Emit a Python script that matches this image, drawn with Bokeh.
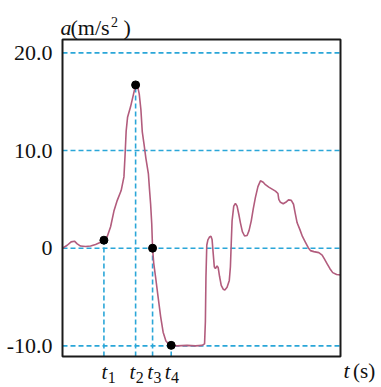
from bokeh.plotting import figure
from bokeh.models import Label
from bokeh.embed import file_html
from bokeh.resources import INLINE

# ---- data ----
t = [0.00, 0.17, 0.31, 0.43, 0.53, 0.65, 0.83, 1.01, 1.19, 1.37, 1.49, 1.61, 1.73, 1.85, 1.97,
     2.11, 2.21, 2.25, 2.29, 2.34, 2.45, 2.54, 2.63, 2.70, 2.76, 2.82, 2.87, 2.93, 3.00, 3.09,
     3.13, 3.17, 3.21, 3.24, 3.28, 3.35, 3.43, 3.53, 3.62, 3.72, 3.83, 3.91, 4.12, 4.48, 4.78,
     5.02, 5.11, 5.14, 5.16, 5.19, 5.23, 5.29, 5.34, 5.38, 5.42, 5.46, 5.50, 5.56, 5.60, 5.65,
     5.71, 5.78, 5.84, 5.92, 6.00, 6.04, 6.07, 6.10, 6.16, 6.22, 6.28, 6.34, 6.40, 6.47, 6.55,
     6.64, 6.71, 6.79, 6.86, 6.94, 7.03, 7.12, 7.22, 7.30, 7.42, 7.54, 7.66, 7.75, 7.78, 7.84,
     7.94, 8.03, 8.13, 8.23, 8.31, 8.37, 8.44, 8.54, 8.63, 8.74, 8.84, 8.92, 9.04, 9.22, 9.34,
     9.42, 9.52, 9.62, 9.72, 9.86, 10.00]
a = [0.00, 0.30, 0.65, 0.72, 0.45, 0.22, 0.17, 0.22, 0.38, 0.60, 0.82, 1.20, 2.20, 3.80, 4.90,
     5.90, 7.30, 9.50, 12.00, 13.40, 14.50, 15.60, 16.72, 16.60, 15.80, 14.20, 11.90, 10.70, 9.20, 7.60,
     6.00, 4.50, 2.50, 0.00, -1.50, -3.00, -4.80, -7.00, -8.60, -9.50, -9.85, -9.95, -10.00, -9.95, -10.00,
     -9.95, -9.80, -7.50, -3.00, 0.30, 0.85, 1.15, 1.23, 0.90, -0.50, -1.90, -2.10, -1.80, -2.00, -2.90,
     -3.80, -4.20, -4.27, -4.00, -3.30, -1.90, 0.50, 2.80, 4.30, 4.60, 4.30, 3.50, 2.60, 1.70, 1.25,
     1.30, 1.80, 2.80, 4.00, 5.20, 6.30, 6.90, 6.75, 6.50, 6.25, 6.05, 5.85, 5.60, 5.00, 4.70,
     4.55, 4.70, 4.95, 4.90, 4.50, 3.60, 2.60, 1.90, 1.20, 0.60, 0.05, -0.25, -0.35, -0.45, -0.70,
     -1.10, -1.60, -2.10, -2.50, -2.70, -2.75]

mark_t = [1.49, 2.63, 3.24, 3.91]
mark_a = [0.82, 16.72, 0.00, -9.95]
mark_names = ["1", "2", "3", "4"]

grid_y = [20.0, 10.0, 0.0, -10.0]
grid_labels = ["20.0", "10.0", "0", "-10.0"]

# plotting box (data limits of the drawn frame)
X0, X1 = 0.0, 10.0
Y0, Y1 = -11.09, 21.37

# ---- layout: the drawn box occupies canvas px FL..FR x FT..FB ----
W, H = 381, 387
FL, FR, FT, FB = 62, 340, 39, 356
def dx(px):
    return X0 + (px - FL) * (X1 - X0) / (FR - FL)
def dy(py):
    return Y1 - (py - FT) * (Y1 - Y0) / (FB - FT)

p = figure(width=W, height=H, x_range=(dx(0), dx(W)), y_range=(dy(H), dy(0)),
           output_backend="svg", toolbar_location=None,
           x_axis_location=None, y_axis_location=None,
           min_border=0)
p.xgrid.visible = False
p.ygrid.visible = False
p.background_fill_color = "white"
p.border_fill_color = "white"
p.outline_line_color = None

grid_col = "#2aa6d8"
p.segment(x0=[X0] * len(grid_y), y0=grid_y, x1=[X1] * len(grid_y), y1=grid_y,
          line_color=grid_col, line_width=1.6, line_dash="5 3")
p.segment(x0=mark_t, y0=[Y0] * len(mark_t), x1=mark_t, y1=mark_a,
          line_color=grid_col, line_width=1.6, line_dash="5 3")

p.line(t, a, line_color="#b25c7d", line_width=1.6)
p.scatter(mark_t, mark_a, size=8, color="black")

# frame box
p.quad(left=[X0], right=[X1], bottom=[Y0], top=[Y1], fill_color=None,
       line_color="#1a1a1a", line_width=2)

serif = "Liberation Serif"

# y tick labels
p.text(x=[dx(52)] * len(grid_y), y=grid_y, text=grid_labels,
       text_font={"value": serif}, text_font_size="22px", text_color="#111111",
       text_align="right", text_baseline="middle")

def lab(txt, px, py, size="22px", style="normal"):
    p.add_layout(Label(x=dx(px), y=dy(py), text=txt, text_font=serif,
                       text_font_size=size, text_font_style=style,
                       text_color="#111111", text_align="left",
                       text_baseline="alphabetic"))

# y-axis title a(m/s^2)
lab("a", 60, 27, style="italic")
lab("(m/s", 70, 27)
lab("2", 110.5, 21, size="14px")
lab(")", 123, 27)

# x-axis title t(s)
lab("t", 343, 370, style="italic")
lab("(s)", 352.5, 370, size="21px")

# t_i labels
t_left = [101, 129, 146.7, 164.3]
for name, tl in zip(mark_names, t_left):
    lab("t", tl, 371, size="21px", style="italic")
    lab(name, tl + 6.3, 377, size="16px")

open("out.html", "w").write(file_html(p, INLINE))
